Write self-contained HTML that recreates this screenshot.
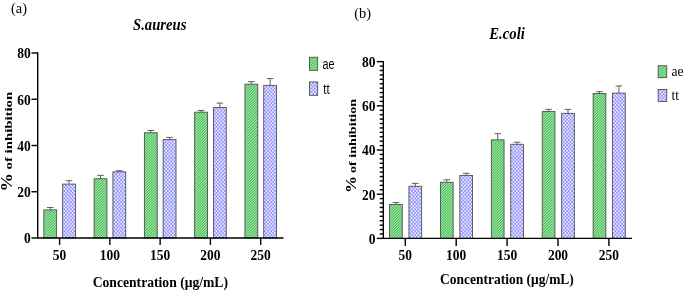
<!DOCTYPE html>
<html lang="en"><head><meta charset="utf-8"><title>Inhibition charts</title>
<style>
html,body{margin:0;padding:0;background:#fff;}
body{width:685px;height:292px;overflow:hidden;}
svg{display:block;}
text{fill:#000;}
.r{font-family:"Liberation Serif",serif;}
.b{font-family:"Liberation Serif",serif;font-weight:bold;}
.bi{font-family:"Liberation Serif",serif;font-weight:bold;font-style:italic;}
.s{font-family:"Liberation Sans",sans-serif;}
</style></head><body>
<svg width="685" height="292" viewBox="0 0 685 292">
<defs>
<filter id="soft" x="0" y="0" width="685" height="292" filterUnits="userSpaceOnUse"><feGaussianBlur stdDeviation="0.5"/></filter>
<clipPath id="cg"><rect x="309.45" y="57.25" width="8.20" height="13.10"/><rect x="658.15" y="65.75" width="8.60" height="11.90"/><rect x="43.85" y="209.88" width="12.80" height="28.12"/><rect x="94.12" y="178.80" width="12.80" height="59.20"/><rect x="144.39" y="132.78" width="12.80" height="105.22"/><rect x="194.66" y="112.20" width="12.80" height="125.80"/><rect x="244.93" y="84.22" width="12.80" height="153.78"/><rect x="389.55" y="204.49" width="12.70" height="33.91"/><rect x="440.45" y="182.28" width="12.70" height="56.12"/><rect x="491.35" y="139.86" width="12.70" height="98.54"/><rect x="542.25" y="111.58" width="12.70" height="126.82"/><rect x="593.15" y="93.47" width="12.70" height="144.94"/></clipPath>
<clipPath id="cb"><rect x="309.45" y="81.95" width="8.20" height="13.40"/><rect x="658.15" y="89.45" width="8.60" height="12.00"/><rect x="62.65" y="184.12" width="12.80" height="53.88"/><rect x="112.92" y="171.86" width="12.80" height="66.14"/><rect x="163.19" y="139.60" width="12.80" height="98.40"/><rect x="213.46" y="107.58" width="12.80" height="130.42"/><rect x="263.73" y="85.38" width="12.80" height="152.62"/><rect x="408.95" y="186.26" width="12.70" height="52.14"/><rect x="459.85" y="175.43" width="12.70" height="62.97"/><rect x="510.75" y="144.28" width="12.70" height="94.12"/><rect x="561.65" y="113.35" width="12.70" height="125.05"/><rect x="612.55" y="93.13" width="12.70" height="145.27"/></clipPath>
</defs>
<rect width="685" height="292" fill="#fff"/>
<g filter="url(#soft)">
<g clip-path="url(#cg)"><rect x="0" y="40" width="685" height="210" fill="#95ee96"/><path d="M-200.00 250L10.00 40M-197.37 250L12.63 40M-194.74 250L15.26 40M-192.11 250L17.89 40M-189.48 250L20.52 40M-186.85 250L23.15 40M-184.22 250L25.78 40M-181.59 250L28.41 40M-178.96 250L31.04 40M-176.33 250L33.67 40M-173.70 250L36.30 40M-171.07 250L38.93 40M-168.44 250L41.56 40M-165.81 250L44.19 40M-163.18 250L46.82 40M-160.55 250L49.45 40M-157.92 250L52.08 40M-155.29 250L54.71 40M-152.66 250L57.34 40M-150.03 250L59.97 40M-147.40 250L62.60 40M-144.77 250L65.23 40M-142.14 250L67.86 40M-139.51 250L70.49 40M-136.88 250L73.12 40M-134.25 250L75.75 40M-131.62 250L78.38 40M-128.99 250L81.01 40M-126.36 250L83.64 40M-123.73 250L86.27 40M-121.10 250L88.90 40M-118.47 250L91.53 40M-115.84 250L94.16 40M-113.21 250L96.79 40M-110.58 250L99.42 40M-107.95 250L102.05 40M-105.32 250L104.68 40M-102.69 250L107.31 40M-100.06 250L109.94 40M-97.43 250L112.57 40M-94.80 250L115.20 40M-92.17 250L117.83 40M-89.54 250L120.46 40M-86.91 250L123.09 40M-84.28 250L125.72 40M-81.65 250L128.35 40M-79.02 250L130.98 40M-76.39 250L133.61 40M-73.76 250L136.24 40M-71.13 250L138.87 40M-68.50 250L141.50 40M-65.87 250L144.13 40M-63.24 250L146.76 40M-60.61 250L149.39 40M-57.98 250L152.02 40M-55.35 250L154.65 40M-52.72 250L157.28 40M-50.09 250L159.91 40M-47.46 250L162.54 40M-44.83 250L165.17 40M-42.20 250L167.80 40M-39.57 250L170.43 40M-36.94 250L173.06 40M-34.31 250L175.69 40M-31.68 250L178.32 40M-29.05 250L180.95 40M-26.42 250L183.58 40M-23.79 250L186.21 40M-21.16 250L188.84 40M-18.53 250L191.47 40M-15.90 250L194.10 40M-13.27 250L196.73 40M-10.64 250L199.36 40M-8.01 250L201.99 40M-5.38 250L204.62 40M-2.75 250L207.25 40M-0.12 250L209.88 40M2.51 250L212.51 40M5.14 250L215.14 40M7.77 250L217.77 40M10.40 250L220.40 40M13.03 250L223.03 40M15.66 250L225.66 40M18.29 250L228.29 40M20.92 250L230.92 40M23.55 250L233.55 40M26.18 250L236.18 40M28.81 250L238.81 40M31.44 250L241.44 40M34.07 250L244.07 40M36.70 250L246.70 40M39.33 250L249.33 40M41.96 250L251.96 40M44.59 250L254.59 40M47.22 250L257.22 40M49.85 250L259.85 40M52.48 250L262.48 40M55.11 250L265.11 40M57.74 250L267.74 40M60.37 250L270.37 40M63.00 250L273.00 40M65.63 250L275.63 40M68.26 250L278.26 40M70.89 250L280.89 40M73.52 250L283.52 40M76.15 250L286.15 40M78.78 250L288.78 40M81.41 250L291.41 40M84.04 250L294.04 40M86.67 250L296.67 40M89.30 250L299.30 40M91.93 250L301.93 40M94.56 250L304.56 40M97.19 250L307.19 40M99.82 250L309.82 40M102.45 250L312.45 40M105.08 250L315.08 40M107.71 250L317.71 40M110.34 250L320.34 40M112.97 250L322.97 40M115.60 250L325.60 40M118.23 250L328.23 40M120.86 250L330.86 40M123.49 250L333.49 40M126.12 250L336.12 40M128.75 250L338.75 40M131.38 250L341.38 40M134.01 250L344.01 40M136.64 250L346.64 40M139.27 250L349.27 40M141.90 250L351.90 40M144.53 250L354.53 40M147.16 250L357.16 40M149.79 250L359.79 40M152.42 250L362.42 40M155.05 250L365.05 40M157.68 250L367.68 40M160.31 250L370.31 40M162.94 250L372.94 40M165.57 250L375.57 40M168.20 250L378.20 40M170.83 250L380.83 40M173.46 250L383.46 40M176.09 250L386.09 40M178.72 250L388.72 40M181.35 250L391.35 40M183.98 250L393.98 40M186.61 250L396.61 40M189.24 250L399.24 40M191.87 250L401.87 40M194.50 250L404.50 40M197.13 250L407.13 40M199.76 250L409.76 40M202.39 250L412.39 40M205.02 250L415.02 40M207.65 250L417.65 40M210.28 250L420.28 40M212.91 250L422.91 40M215.54 250L425.54 40M218.17 250L428.17 40M220.80 250L430.80 40M223.43 250L433.43 40M226.06 250L436.06 40M228.69 250L438.69 40M231.32 250L441.32 40M233.95 250L443.95 40M236.58 250L446.58 40M239.21 250L449.21 40M241.84 250L451.84 40M244.47 250L454.47 40M247.10 250L457.10 40M249.73 250L459.73 40M252.36 250L462.36 40M254.99 250L464.99 40M257.62 250L467.62 40M260.25 250L470.25 40M262.88 250L472.88 40M265.51 250L475.51 40M268.14 250L478.14 40M270.77 250L480.77 40M273.40 250L483.40 40M276.03 250L486.03 40M278.66 250L488.66 40M281.29 250L491.29 40M283.92 250L493.92 40M286.55 250L496.55 40M289.18 250L499.18 40M291.81 250L501.81 40M294.44 250L504.44 40M297.07 250L507.07 40M299.70 250L509.70 40M302.33 250L512.33 40M304.96 250L514.96 40M307.59 250L517.59 40M310.22 250L520.22 40M312.85 250L522.85 40M315.48 250L525.48 40M318.11 250L528.11 40M320.74 250L530.74 40M323.37 250L533.37 40M326.00 250L536.00 40M328.63 250L538.63 40M331.26 250L541.26 40M333.89 250L543.89 40M336.52 250L546.52 40M339.15 250L549.15 40M341.78 250L551.78 40M344.41 250L554.41 40M347.04 250L557.04 40M349.67 250L559.67 40M352.30 250L562.30 40M354.93 250L564.93 40M357.56 250L567.56 40M360.19 250L570.19 40M362.82 250L572.82 40M365.45 250L575.45 40M368.08 250L578.08 40M370.71 250L580.71 40M373.34 250L583.34 40M375.97 250L585.97 40M378.60 250L588.60 40M381.23 250L591.23 40M383.86 250L593.86 40M386.49 250L596.49 40M389.12 250L599.12 40M391.75 250L601.75 40M394.38 250L604.38 40M397.01 250L607.01 40M399.64 250L609.64 40M402.27 250L612.27 40M404.90 250L614.90 40M407.53 250L617.53 40M410.16 250L620.16 40M412.79 250L622.79 40M415.42 250L625.42 40M418.05 250L628.05 40M420.68 250L630.68 40M423.31 250L633.31 40M425.94 250L635.94 40M428.57 250L638.57 40M431.20 250L641.20 40M433.83 250L643.83 40M436.46 250L646.46 40M439.09 250L649.09 40M441.72 250L651.72 40M444.35 250L654.35 40M446.98 250L656.98 40M449.61 250L659.61 40M452.24 250L662.24 40M454.87 250L664.87 40M457.50 250L667.50 40M460.13 250L670.13 40M462.76 250L672.76 40M465.39 250L675.39 40M468.02 250L678.02 40M470.65 250L680.65 40M473.28 250L683.28 40M475.91 250L685.91 40M478.54 250L688.54 40M481.17 250L691.17 40M483.80 250L693.80 40M486.43 250L696.43 40M489.06 250L699.06 40M491.69 250L701.69 40M494.32 250L704.32 40M496.95 250L706.95 40M499.58 250L709.58 40M502.21 250L712.21 40M504.84 250L714.84 40M507.47 250L717.47 40M510.10 250L720.10 40M512.73 250L722.73 40M515.36 250L725.36 40M517.99 250L727.99 40M520.62 250L730.62 40M523.25 250L733.25 40M525.88 250L735.88 40M528.51 250L738.51 40M531.14 250L741.14 40M533.77 250L743.77 40M536.40 250L746.40 40M539.03 250L749.03 40M541.66 250L751.66 40M544.29 250L754.29 40M546.92 250L756.92 40M549.55 250L759.55 40M552.18 250L762.18 40M554.81 250L764.81 40M557.44 250L767.44 40M560.07 250L770.07 40M562.70 250L772.70 40M565.33 250L775.33 40M567.96 250L777.96 40M570.59 250L780.59 40M573.22 250L783.22 40M575.85 250L785.85 40M578.48 250L788.48 40M581.11 250L791.11 40M583.74 250L793.74 40M586.37 250L796.37 40M589.00 250L799.00 40M591.63 250L801.63 40M594.26 250L804.26 40M596.89 250L806.89 40M599.52 250L809.52 40M602.15 250L812.15 40M604.78 250L814.78 40M607.41 250L817.41 40M610.04 250L820.04 40M612.67 250L822.67 40M615.30 250L825.30 40M617.93 250L827.93 40M620.56 250L830.56 40M623.19 250L833.19 40M625.82 250L835.82 40M628.45 250L838.45 40M631.08 250L841.08 40M633.71 250L843.71 40M636.34 250L846.34 40M638.97 250L848.97 40M641.60 250L851.60 40M644.23 250L854.23 40M646.86 250L856.86 40M649.49 250L859.49 40M652.12 250L862.12 40M654.75 250L864.75 40M657.38 250L867.38 40M660.01 250L870.01 40M662.64 250L872.64 40M665.27 250L875.27 40M667.90 250L877.90 40M670.53 250L880.53 40M673.16 250L883.16 40M675.79 250L885.79 40M678.42 250L888.42 40M681.05 250L891.05 40M683.68 250L893.68 40M686.31 250L896.31 40M688.94 250L898.94 40M691.57 250L901.57 40M694.20 250L904.20 40M696.83 250L906.83 40" stroke="#42a05c" stroke-width="0.93" fill="none"/></g>
<g clip-path="url(#cb)"><rect x="0" y="40" width="685" height="210" fill="#ececff"/><path d="M0 40.91H685M0 44.57H685M0 48.23H685M0 51.90H685M0 55.55H685M0 59.21H685M0 62.88H685M0 66.54H685M0 70.20H685M0 73.86H685M0 77.52H685M0 81.18H685M0 84.84H685M0 88.50H685M0 92.16H685M0 95.82H685M0 99.48H685M0 103.14H685M0 106.80H685M0 110.46H685M0 114.12H685M0 117.78H685M0 121.44H685M0 125.10H685M0 128.75H685M0 132.41H685M0 136.07H685M0 139.73H685M0 143.40H685M0 147.05H685M0 150.72H685M0 154.38H685M0 158.03H685M0 161.69H685M0 165.35H685M0 169.01H685M0 172.67H685M0 176.34H685M0 180.00H685M0 183.66H685M0 187.31H685M0 190.97H685M0 194.63H685M0 198.29H685M0 201.96H685M0 205.62H685M0 209.28H685M0 212.94H685M0 216.59H685M0 220.25H685M0 223.91H685M0 227.57H685M0 231.23H685M0 234.90H685M0 238.56H685M0 242.22H685M0 245.88H685M0 249.53H685M0 253.19H685M0 256.86H685" stroke="#8a8aff" stroke-width="1.83" stroke-dasharray="1.67 1.67" fill="none"/><path d="M0 42.74H685M0 46.41H685M0 50.06H685M0 53.73H685M0 57.38H685M0 61.05H685M0 64.70H685M0 68.37H685M0 72.03H685M0 75.69H685M0 79.35H685M0 83.01H685M0 86.67H685M0 90.33H685M0 93.98H685M0 97.65H685M0 101.31H685M0 104.97H685M0 108.63H685M0 112.29H685M0 115.95H685M0 119.61H685M0 123.27H685M0 126.93H685M0 130.59H685M0 134.24H685M0 137.91H685M0 141.56H685M0 145.22H685M0 148.88H685M0 152.54H685M0 156.21H685M0 159.86H685M0 163.53H685M0 167.19H685M0 170.84H685M0 174.50H685M0 178.16H685M0 181.82H685M0 185.48H685M0 189.15H685M0 192.81H685M0 196.47H685M0 200.12H685M0 203.78H685M0 207.44H685M0 211.10H685M0 214.76H685M0 218.43H685M0 222.09H685M0 225.75H685M0 229.41H685M0 233.06H685M0 236.72H685M0 240.38H685M0 244.04H685M0 247.71H685M0 251.37H685M0 255.03H685M0 258.69H685" stroke="#8a8aff" stroke-width="1.83" stroke-dasharray="1.67 1.67" stroke-dashoffset="1.67" fill="none"/></g>
<path d="M50.25 209.88V207.47M46.95 207.47H53.55" stroke="#444" stroke-width="0.85" fill="none"/>
<rect x="43.85" y="209.88" width="12.80" height="28.12" fill="none" stroke="#505050" stroke-width="0.9"/>
<path d="M69.05 184.12V180.72M65.75 180.72H72.35" stroke="#444" stroke-width="0.85" fill="none"/>
<rect x="62.65" y="184.12" width="12.80" height="53.88" fill="none" stroke="#505050" stroke-width="0.9"/>
<path d="M100.52 178.80V175.33M97.22 175.33H103.82" stroke="#444" stroke-width="0.85" fill="none"/>
<rect x="94.12" y="178.80" width="12.80" height="59.20" fill="none" stroke="#505050" stroke-width="0.9"/>
<path d="M119.32 171.86V170.71M116.02 170.71H122.62" stroke="#444" stroke-width="0.85" fill="none"/>
<rect x="112.92" y="171.86" width="12.80" height="66.14" fill="none" stroke="#505050" stroke-width="0.9"/>
<path d="M150.79 132.78V130.47M147.49 130.47H154.09" stroke="#444" stroke-width="0.85" fill="none"/>
<rect x="144.39" y="132.78" width="12.80" height="105.22" fill="none" stroke="#505050" stroke-width="0.9"/>
<path d="M169.59 139.60V137.41M166.29 137.41H172.89" stroke="#444" stroke-width="0.85" fill="none"/>
<rect x="163.19" y="139.60" width="12.80" height="98.40" fill="none" stroke="#505050" stroke-width="0.9"/>
<path d="M201.06 112.20V110.47M197.76 110.47H204.36" stroke="#444" stroke-width="0.85" fill="none"/>
<rect x="194.66" y="112.20" width="12.80" height="125.80" fill="none" stroke="#505050" stroke-width="0.9"/>
<path d="M219.86 107.58V103.07M216.56 103.07H223.16" stroke="#444" stroke-width="0.85" fill="none"/>
<rect x="213.46" y="107.58" width="12.80" height="130.42" fill="none" stroke="#505050" stroke-width="0.9"/>
<path d="M251.33 84.22V81.67M248.03 81.67H254.63" stroke="#444" stroke-width="0.85" fill="none"/>
<rect x="244.93" y="84.22" width="12.80" height="153.78" fill="none" stroke="#505050" stroke-width="0.9"/>
<path d="M270.13 85.38V78.55M266.83 78.55H273.43" stroke="#444" stroke-width="0.85" fill="none"/>
<rect x="263.73" y="85.38" width="12.80" height="152.62" fill="none" stroke="#505050" stroke-width="0.9"/>
<path d="M37.70 52.30V238.70M37.00 238.00H283.50" stroke="#000" stroke-width="1.4" fill="none"/>
<path d="M31.50 238.00H37.70" stroke="#000" stroke-width="1.4"/>
<text transform="translate(30.70,243.30) scale(0.93,1)" class="b" font-size="14.5" text-anchor="end">0</text>
<path d="M31.50 191.75H37.70" stroke="#000" stroke-width="1.4"/>
<text transform="translate(30.70,197.05) scale(0.93,1)" class="b" font-size="14.5" text-anchor="end">20</text>
<path d="M31.50 145.50H37.70" stroke="#000" stroke-width="1.4"/>
<text transform="translate(30.70,150.80) scale(0.93,1)" class="b" font-size="14.5" text-anchor="end">40</text>
<path d="M31.50 99.25H37.70" stroke="#000" stroke-width="1.4"/>
<text transform="translate(30.70,104.55) scale(0.93,1)" class="b" font-size="14.5" text-anchor="end">60</text>
<path d="M31.50 53.00H37.70" stroke="#000" stroke-width="1.4"/>
<text transform="translate(30.70,58.30) scale(0.93,1)" class="b" font-size="14.5" text-anchor="end">80</text>
<path d="M59.60 238.00V244.90" stroke="#000" stroke-width="1.4"/>
<text transform="translate(59.60,259.90) scale(0.93,1)" class="b" font-size="14.5" text-anchor="middle">50</text>
<path d="M109.87 238.00V244.90" stroke="#000" stroke-width="1.4"/>
<text transform="translate(109.87,259.90) scale(0.93,1)" class="b" font-size="14.5" text-anchor="middle">100</text>
<path d="M160.14 238.00V244.90" stroke="#000" stroke-width="1.4"/>
<text transform="translate(160.14,259.90) scale(0.93,1)" class="b" font-size="14.5" text-anchor="middle">150</text>
<path d="M210.41 238.00V244.90" stroke="#000" stroke-width="1.4"/>
<text transform="translate(210.41,259.90) scale(0.93,1)" class="b" font-size="14.5" text-anchor="middle">200</text>
<path d="M260.68 238.00V244.90" stroke="#000" stroke-width="1.4"/>
<text transform="translate(260.68,259.90) scale(0.93,1)" class="b" font-size="14.5" text-anchor="middle">250</text>
<path d="M395.90 204.49V202.50M392.60 202.50H399.20" stroke="#444" stroke-width="0.85" fill="none"/>
<rect x="389.55" y="204.49" width="12.70" height="33.91" fill="none" stroke="#505050" stroke-width="0.9"/>
<path d="M415.30 186.26V183.39M412.00 183.39H418.60" stroke="#444" stroke-width="0.85" fill="none"/>
<rect x="408.95" y="186.26" width="12.70" height="52.14" fill="none" stroke="#505050" stroke-width="0.9"/>
<path d="M446.80 182.28V179.79M443.50 179.79H450.10" stroke="#444" stroke-width="0.85" fill="none"/>
<rect x="440.45" y="182.28" width="12.70" height="56.12" fill="none" stroke="#505050" stroke-width="0.9"/>
<path d="M466.20 175.43V173.33M462.90 173.33H469.50" stroke="#444" stroke-width="0.85" fill="none"/>
<rect x="459.85" y="175.43" width="12.70" height="62.97" fill="none" stroke="#505050" stroke-width="0.9"/>
<path d="M497.70 139.86V133.68M494.40 133.68H501.00" stroke="#444" stroke-width="0.85" fill="none"/>
<rect x="491.35" y="139.86" width="12.70" height="98.54" fill="none" stroke="#505050" stroke-width="0.9"/>
<path d="M517.10 144.28V142.18M513.80 142.18H520.40" stroke="#444" stroke-width="0.85" fill="none"/>
<rect x="510.75" y="144.28" width="12.70" height="94.12" fill="none" stroke="#505050" stroke-width="0.9"/>
<path d="M548.60 111.58V109.37M545.30 109.37H551.90" stroke="#444" stroke-width="0.85" fill="none"/>
<rect x="542.25" y="111.58" width="12.70" height="126.82" fill="none" stroke="#505050" stroke-width="0.9"/>
<path d="M568.00 113.35V109.37M564.70 109.37H571.30" stroke="#444" stroke-width="0.85" fill="none"/>
<rect x="561.65" y="113.35" width="12.70" height="125.05" fill="none" stroke="#505050" stroke-width="0.9"/>
<path d="M599.50 93.47V91.70M596.20 91.70H602.80" stroke="#444" stroke-width="0.85" fill="none"/>
<rect x="593.15" y="93.47" width="12.70" height="144.94" fill="none" stroke="#505050" stroke-width="0.9"/>
<path d="M618.90 93.13V85.95M615.60 85.95H622.20" stroke="#444" stroke-width="0.85" fill="none"/>
<rect x="612.55" y="93.13" width="12.70" height="145.27" fill="none" stroke="#505050" stroke-width="0.9"/>
<path d="M383.30 60.95V239.10M382.60 238.40H632.10" stroke="#000" stroke-width="1.4" fill="none"/>
<path d="M376.80 238.40H383.30" stroke="#000" stroke-width="1.4"/>
<text transform="translate(375.50,243.70) scale(0.93,1)" class="b" font-size="14.5" text-anchor="end">0</text>
<path d="M376.80 194.21H383.30" stroke="#000" stroke-width="1.4"/>
<text transform="translate(375.50,199.51) scale(0.93,1)" class="b" font-size="14.5" text-anchor="end">20</text>
<path d="M376.80 150.03H383.30" stroke="#000" stroke-width="1.4"/>
<text transform="translate(375.50,155.33) scale(0.93,1)" class="b" font-size="14.5" text-anchor="end">40</text>
<path d="M376.80 105.84H383.30" stroke="#000" stroke-width="1.4"/>
<text transform="translate(375.50,111.14) scale(0.93,1)" class="b" font-size="14.5" text-anchor="end">60</text>
<path d="M376.80 61.65H383.30" stroke="#000" stroke-width="1.4"/>
<text transform="translate(375.50,66.95) scale(0.93,1)" class="b" font-size="14.5" text-anchor="end">80</text>
<path d="M379.70 233.98H383.30" stroke="#000" stroke-width="1.4"/>
<path d="M379.70 229.56H383.30" stroke="#000" stroke-width="1.4"/>
<path d="M379.70 225.14H383.30" stroke="#000" stroke-width="1.4"/>
<path d="M379.70 220.72H383.30" stroke="#000" stroke-width="1.4"/>
<path d="M379.70 216.31H383.30" stroke="#000" stroke-width="1.4"/>
<path d="M379.70 211.89H383.30" stroke="#000" stroke-width="1.4"/>
<path d="M379.70 207.47H383.30" stroke="#000" stroke-width="1.4"/>
<path d="M379.70 203.05H383.30" stroke="#000" stroke-width="1.4"/>
<path d="M379.70 198.63H383.30" stroke="#000" stroke-width="1.4"/>
<path d="M379.70 189.79H383.30" stroke="#000" stroke-width="1.4"/>
<path d="M379.70 185.38H383.30" stroke="#000" stroke-width="1.4"/>
<path d="M379.70 180.96H383.30" stroke="#000" stroke-width="1.4"/>
<path d="M379.70 176.54H383.30" stroke="#000" stroke-width="1.4"/>
<path d="M379.70 172.12H383.30" stroke="#000" stroke-width="1.4"/>
<path d="M379.70 167.70H383.30" stroke="#000" stroke-width="1.4"/>
<path d="M379.70 163.28H383.30" stroke="#000" stroke-width="1.4"/>
<path d="M379.70 158.86H383.30" stroke="#000" stroke-width="1.4"/>
<path d="M379.70 154.44H383.30" stroke="#000" stroke-width="1.4"/>
<path d="M379.70 145.61H383.30" stroke="#000" stroke-width="1.4"/>
<path d="M379.70 141.19H383.30" stroke="#000" stroke-width="1.4"/>
<path d="M379.70 136.77H383.30" stroke="#000" stroke-width="1.4"/>
<path d="M379.70 132.35H383.30" stroke="#000" stroke-width="1.4"/>
<path d="M379.70 127.93H383.30" stroke="#000" stroke-width="1.4"/>
<path d="M379.70 123.51H383.30" stroke="#000" stroke-width="1.4"/>
<path d="M379.70 119.09H383.30" stroke="#000" stroke-width="1.4"/>
<path d="M379.70 114.67H383.30" stroke="#000" stroke-width="1.4"/>
<path d="M379.70 110.26H383.30" stroke="#000" stroke-width="1.4"/>
<path d="M379.70 101.42H383.30" stroke="#000" stroke-width="1.4"/>
<path d="M379.70 97.00H383.30" stroke="#000" stroke-width="1.4"/>
<path d="M379.70 92.58H383.30" stroke="#000" stroke-width="1.4"/>
<path d="M379.70 88.16H383.30" stroke="#000" stroke-width="1.4"/>
<path d="M379.70 83.74H383.30" stroke="#000" stroke-width="1.4"/>
<path d="M379.70 79.32H383.30" stroke="#000" stroke-width="1.4"/>
<path d="M379.70 74.91H383.30" stroke="#000" stroke-width="1.4"/>
<path d="M379.70 70.49H383.30" stroke="#000" stroke-width="1.4"/>
<path d="M379.70 66.07H383.30" stroke="#000" stroke-width="1.4"/>
<path d="M405.30 238.40V245.90" stroke="#000" stroke-width="1.4"/>
<text transform="translate(405.30,260.00) scale(0.93,1)" class="b" font-size="14.5" text-anchor="middle">50</text>
<path d="M456.20 238.40V245.90" stroke="#000" stroke-width="1.4"/>
<text transform="translate(456.20,260.00) scale(0.93,1)" class="b" font-size="14.5" text-anchor="middle">100</text>
<path d="M507.10 238.40V245.90" stroke="#000" stroke-width="1.4"/>
<text transform="translate(507.10,260.00) scale(0.93,1)" class="b" font-size="14.5" text-anchor="middle">150</text>
<path d="M558.00 238.40V245.90" stroke="#000" stroke-width="1.4"/>
<text transform="translate(558.00,260.00) scale(0.93,1)" class="b" font-size="14.5" text-anchor="middle">200</text>
<path d="M608.90 238.40V245.90" stroke="#000" stroke-width="1.4"/>
<text transform="translate(608.90,260.00) scale(0.93,1)" class="b" font-size="14.5" text-anchor="middle">250</text>
<text transform="translate(11.00,13.00) scale(0.92,1)" class="r" font-size="15.6" text-anchor="start">(a)</text>
<text transform="translate(354.30,18.10) scale(0.93,1)" class="r" font-size="15.5" text-anchor="start">(b)</text>
<text transform="translate(133.00,29.70) scale(0.9,1)" class="bi" font-size="16.3" text-anchor="start">S.aureus</text>
<text transform="translate(489.30,39.00) scale(0.93,1)" class="bi" font-size="15.8" text-anchor="start">E.coli</text>
<text transform="translate(92.70,286.50) scale(0.909,1)" class="b" font-size="15" text-anchor="start">Concentration (μg/mL)</text>
<text transform="translate(440.00,283.90) scale(0.93,1)" class="b" font-size="14.5" text-anchor="start">Concentration (μg/mL)</text>
<text transform="translate(11.80,91.80) scale(0.76,1) rotate(-90)" class="b" font-size="14.8" text-anchor="end">of inhibition</text>
<text transform="translate(11.90,191.60) scale(0.86,1) rotate(-90)" class="b" font-size="18.5" text-anchor="start">%</text>
<text transform="translate(356.30,98.80) scale(0.765,1) rotate(-90)" class="b" font-size="14.15" text-anchor="end">of inhibition</text>
<text transform="translate(356.20,192.90) scale(0.83,1) rotate(-90)" class="b" font-size="17" text-anchor="start">%</text>
<rect x="309.45" y="57.25" width="8.2" height="13.1" fill="none" stroke="#505050" stroke-width="0.9"/>
<text transform="translate(322.60,68.60) scale(0.72,1)" class="s" font-size="15" text-anchor="start">ae</text>
<rect x="309.45" y="81.95" width="8.2" height="13.4" fill="none" stroke="#505050" stroke-width="0.9"/>
<text transform="translate(323.20,93.50) scale(0.7632,1)" class="s" font-size="15" text-anchor="start">tt</text>
<rect x="658.1500000000001" y="65.75" width="8.6" height="11.9" fill="none" stroke="#505050" stroke-width="0.9"/>
<text transform="translate(671.50,76.00) scale(0.9,1)" class="r" font-size="15" text-anchor="start">ae</text>
<rect x="658.1500000000001" y="89.45" width="8.6" height="12.0" fill="none" stroke="#505050" stroke-width="0.9"/>
<text transform="translate(671.50,99.80) scale(0.9,1)" class="r" font-size="15" text-anchor="start">tt</text>
</g>
</svg>
</body></html>
